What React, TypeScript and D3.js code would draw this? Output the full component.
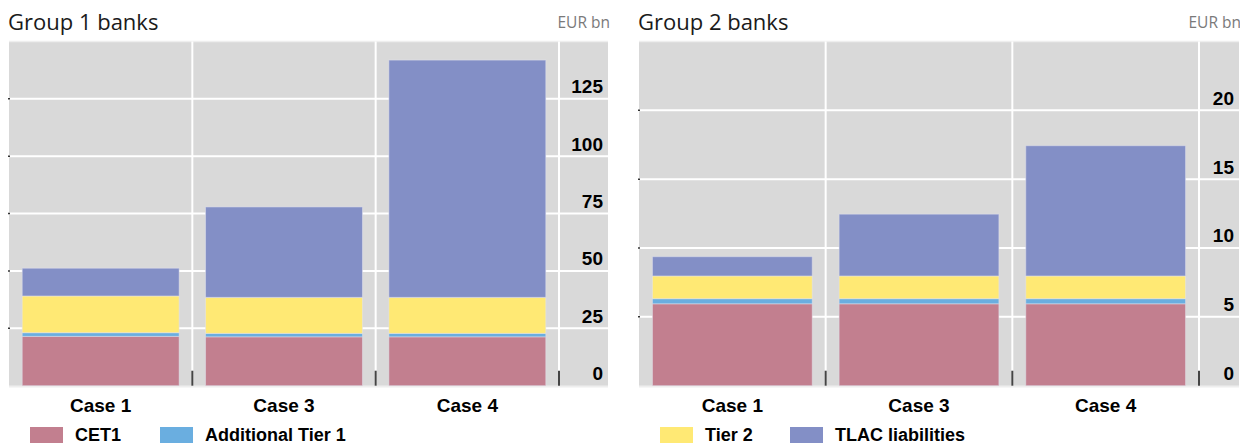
import React from "react";
import * as d3 from "d3";

const categories = ["Case 1", "Case 3", "Case 4"];
const seriesNames = ["CET1", "Additional Tier 1", "Tier 2", "TLAC liabilities"];
const seriesColors = ["#c27f8f", "#6aaee0", "#ffe974", "#838fc6"];

const group1CET1 = [21.5, 21.3, 21.3];
const group1AT1 = [1.6, 1.5, 1.5];
const group1Tier2 = [16.0, 15.7, 15.7];
const group1TLAC = [12.1, 39.4, 103.4];
const group1Ticks = [0, 25, 50, 75, 100, 125];

const group2CET1 = [5.95, 5.95, 5.95];
const group2AT1 = [0.37, 0.37, 0.37];
const group2Tier2 = [1.65, 1.65, 1.65];
const group2TLAC = [1.4, 4.49, 9.46];
const group2Ticks = [0, 5, 10, 15, 20];

type PanelProps = {
  title: string;
  unit: string;
  x0: number;
  x1: number;
  bandEnd: number;
  yMax: number;
  ticks: number[];
  series: number[][];
};

const TOP = 41.5;
const BOTTOM = 385.7;
const LABEL_FONT = "'Liberation Sans', Arial, sans-serif";
const TITLE_FONT = "'Open Sans', 'Noto Sans', sans-serif";

function Panel({ title, unit, x0, x1, bandEnd, yMax, ticks, series }: PanelProps) {
  const x = d3.scaleBand<string>().domain(categories).range([x0, bandEnd]).paddingInner(0.144).paddingOuter(0.072);
  const y = d3.scaleLinear().domain([0, yMax]).range([BOTTOM, TOP]);
  const rows = categories.map((c, i) => {
    const o: any = { cat: c };
    seriesNames.forEach((s, j) => (o[s] = series[j][i]));
    return o;
  });
  const stacked = d3.stack<any>().keys(seriesNames)(rows);
  const step = x.step();
  const separators = categories.map((c) => (x(c) as number) - step * 0.072 + step);
  return (
    <g>
      <text x={x0 - 1} y={30} fontFamily={TITLE_FONT} fontSize={22} fill="#1a1a1a">{title}</text>
      <text x={x1 + 2} y={28} textAnchor="end" fontFamily={TITLE_FONT} fontSize={15.5} fill="#7a7a7a">{unit}</text>
      <rect x={x0} y={TOP} width={x1 - x0} height={BOTTOM - TOP} fill="#d9d9d9" />
      <line x1={x0} x2={x1} y1={TOP} y2={TOP} stroke="#eeeeee" strokeWidth={1.5} />
      {ticks.filter((t) => t > 0).map((t) => (
        <line key={"g" + t} x1={x0} x2={x1} y1={y(t)} y2={y(t)} stroke="#ffffff" strokeWidth={2} />
      ))}
      {separators.map((s, i) => (
        <line key={"v" + i} x1={s} x2={s} y1={TOP} y2={BOTTOM} stroke="#ffffff" strokeWidth={2} />
      ))}
      {ticks.filter((t) => t > 0).map((t) => (
        <line key={"lt" + t} x1={x0 - 1} x2={x0 + 1} y1={y(t)} y2={y(t)} stroke="#333" strokeWidth={1.5} />
      ))}
      {stacked.map((layer, j) =>
        layer.map((d, i) => (
          <rect
            key={j + "-" + i}
            x={x(categories[i])}
            width={x.bandwidth()}
            y={y(d[1])}
            height={y(d[0]) - y(d[1])}
            fill={seriesColors[j]}
            stroke="#e3e3ef"
            strokeOpacity={0.5}
            strokeWidth={1}
          />
        ))
      )}
      {separators.map((s, i) => (
        <line key={"t" + i} x1={s} x2={s} y1={BOTTOM - 15} y2={BOTTOM} stroke="#444" strokeWidth={2} />
      ))}
      <line x1={x0} x2={x1} y1={BOTTOM + 1} y2={BOTTOM + 1} stroke="#eeeeee" strokeWidth={1.5} />
      {ticks.map((t) => (
        <text key={"l" + t} x={x1 - 5} y={y(t) - 12.5} dy="0.36em" textAnchor="end" fontFamily={LABEL_FONT} fontWeight="bold" fontSize={19} fill="#000">{t}</text>
      ))}
      {categories.map((c) => (
        <text key={c} x={(x(c) as number) + x.bandwidth() / 2} y={405} dy="0.36em" textAnchor="middle" fontFamily={LABEL_FONT} fontWeight="bold" fontSize={19} fill="#000">{c}</text>
      ))}
    </g>
  );
}

const legendLeft = [0, 1];
const legendRight = [2, 3];

export default function App() {
  return (
    <svg width={1240} height={445} style={{ position: "absolute", left: 0, top: 0, background: "#fff" }}>
      <Panel title="Group 1 banks" unit="EUR bn" x0={9} x1={608} bandEnd={559} yMax={150} ticks={group1Ticks}
        series={[group1CET1, group1AT1, group1Tier2, group1TLAC]} />
      <Panel title="Group 2 banks" unit="EUR bn" x0={639} x1={1239} bandEnd={1199} yMax={25} ticks={group2Ticks}
        series={[group2CET1, group2AT1, group2Tier2, group2TLAC]} />
      {legendLeft.map((s, i) => (
        <g key={"ll" + s} transform={`translate(${30 + i * 130},427)`}>
          <rect width={33} height={16} fill={seriesColors[s]} />
          <text x={45} y={8} dy="0.36em" fontFamily={LABEL_FONT} fontWeight="bold" fontSize={18}>{seriesNames[s]}</text>
        </g>
      ))}
      {legendRight.map((s, i) => (
        <g key={"lr" + s} transform={`translate(${660 + i * 130},427)`}>
          <rect width={33} height={16} fill={seriesColors[s]} />
          <text x={45} y={8} dy="0.36em" fontFamily={LABEL_FONT} fontWeight="bold" fontSize={18}>{seriesNames[s]}</text>
        </g>
      ))}
    </svg>
  );
}
